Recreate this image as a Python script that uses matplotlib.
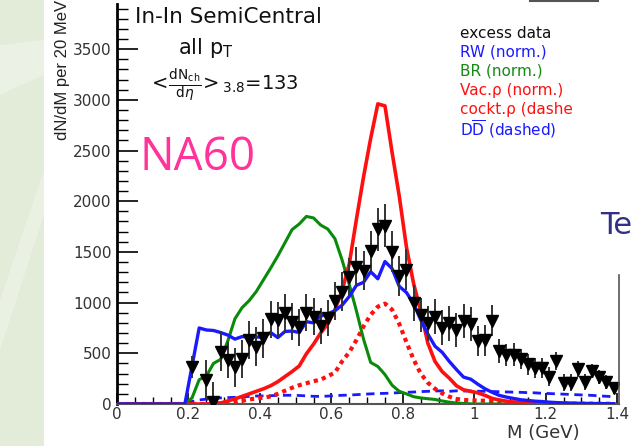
import numpy as np
import matplotlib
matplotlib.use("Agg")
import matplotlib.pyplot as plt
from matplotlib.patches import Rectangle, Polygon
from matplotlib.lines import Line2D

plt.rcParams['font.family'] = ['DejaVu Sans']
plt.rcParams['mathtext.fontset'] = 'dejavusans'

# excess data (20 MeV bins)
m_data = [0.21, 0.25, 0.27, 0.29, 0.31, 0.33, 0.35, 0.37, 0.39, 0.41, 0.43, 0.45, 0.47, 0.49,
          0.51, 0.53, 0.55, 0.57, 0.59, 0.61, 0.63, 0.65, 0.67, 0.69, 0.71, 0.73, 0.75, 0.77,
          0.79, 0.81, 0.83, 0.85, 0.87, 0.89, 0.91, 0.93, 0.95, 0.97, 0.99, 1.01, 1.03, 1.05,
          1.07, 1.09, 1.11, 1.13, 1.15, 1.17, 1.19, 1.21, 1.23, 1.25, 1.27, 1.29, 1.31, 1.33,
          1.35, 1.37, 1.39]
y_data = [368, 237, 23, 516, 434, 362, 444, 631, 565, 648, 835, 828, 894, 812,
          756, 900, 861, 770, 850, 1015, 1107, 1252, 1354, 1315, 1507, 1722, 1760, 1502,
          1262, 1326, 996, 880, 796, 861, 754, 796, 730, 820, 790, 622, 628, 823,
          524, 483, 488, 441, 390, 352, 352, 270, 421, 212, 212, 343, 220, 322,
          266, 215, 155]
err_data = [110, 200, 190, 190, 180, 190, 190, 190, 190, 190, 180, 180, 190, 180,
            180, 180, 180, 180, 180, 190, 190, 190, 190, 190, 200, 210, 210, 200,
            200, 200, 180, 170, 170, 170, 170, 170, 170, 170, 170, 150, 150, 150,
            120, 110, 110, 100, 100, 100, 100, 90, 90, 80, 80, 80, 80, 70,
            70, 70, 60]

m_rw = [0.0, 0.19, 0.23, 0.25, 0.27, 0.29, 0.31, 0.33, 0.35, 0.37, 0.39, 0.41, 0.43, 0.45,
        0.47, 0.49, 0.51, 0.53, 0.55, 0.57, 0.59, 0.61, 0.63, 0.65, 0.67, 0.69, 0.71, 0.73,
        0.75, 0.77, 0.79, 0.81, 0.83, 0.85, 0.87, 0.89, 0.91, 0.93, 0.95, 0.97, 0.99, 1.01,
        1.03, 1.05, 1.07, 1.09, 1.11, 1.13, 1.15, 1.17, 1.19, 1.21, 1.23, 1.25, 1.27, 1.29,
        1.31, 1.33, 1.35, 1.37, 1.39]
y_rw = [0, 0, 750, 730, 725, 705, 680, 640, 665, 660, 660, 660, 705, 655,
        715, 720, 705, 812, 800, 865, 890, 920, 975, 1060, 1170, 1200, 1305, 1235,
        1405, 1335, 1160, 1100, 990, 830, 690, 570, 510, 420, 340, 265, 245, 195,
        150, 115, 85, 68, 55, 42, 35, 28, 24, 18, 14, 11, 9, 7,
        6, 5, 4, 3, 3]

m_br = [0.0, 0.19, 0.21, 0.23, 0.25, 0.27, 0.29, 0.31, 0.33, 0.35, 0.37, 0.39, 0.41, 0.43,
        0.45, 0.47, 0.49, 0.51, 0.53, 0.55, 0.57, 0.59, 0.61, 0.63, 0.65, 0.67, 0.69, 0.71,
        0.73, 0.75, 0.77, 0.79, 0.81, 0.83, 0.85, 0.87, 0.89, 0.91, 0.93, 0.95, 0.97, 1.0, 1.39]
y_br = [0, 0, 60, 240, 275, 400, 440, 620, 840, 950, 1020, 1110, 1225, 1340,
        1460, 1590, 1720, 1775, 1850, 1835, 1765, 1725, 1630, 1420, 1180, 920, 640, 410,
        370, 290, 185, 125, 100, 72, 60, 52, 45, 30, 18, 10, 5, 0, 0]

m_vac = [0.0, 0.25, 0.27, 0.29, 0.31, 0.33, 0.35, 0.37, 0.39, 0.41, 0.43, 0.45, 0.47, 0.49,
         0.51, 0.53, 0.55, 0.57, 0.59, 0.61, 0.63, 0.65, 0.67, 0.69, 0.71, 0.73, 0.75, 0.77,
         0.79, 0.81, 0.83, 0.85, 0.87, 0.89, 0.91, 0.93, 0.95, 0.97, 0.99, 1.01, 1.03, 1.05,
         1.07, 1.09, 1.11, 1.13, 1.15, 1.17, 1.19, 1.21, 1.25, 1.3, 1.39]
y_vac = [0, 0, 5, 10, 30, 50, 75, 100, 125, 150, 180, 220, 270, 320,
         375, 495, 590, 700, 790, 930, 1120, 1380, 1820, 2240, 2620, 2960, 2940, 2480,
         2050, 1550, 1190, 915, 600, 420, 320, 255, 180, 140, 125, 110, 85, 55,
         40, 28, 20, 15, 12, 9, 7, 5, 3, 2, 1]

m_cockt = [0.0, 0.27, 0.29, 0.31, 0.33, 0.35, 0.37, 0.39, 0.41, 0.43, 0.45, 0.47, 0.49, 0.51,
           0.53, 0.55, 0.57, 0.59, 0.61, 0.63, 0.65, 0.67, 0.69, 0.71, 0.73, 0.75, 0.77, 0.79,
           0.81, 0.83, 0.85, 0.87, 0.89, 0.91, 0.93, 0.95, 0.97, 0.99, 1.01, 1.03, 1.05, 1.07,
           1.09, 1.11, 1.13, 1.15, 1.2, 1.3, 1.39]
y_cockt = [0, 0, 5, 12, 22, 32, 45, 55, 62, 75, 100, 130, 160, 185,
           205, 225, 240, 275, 310, 420, 510, 630, 765, 880, 960, 990, 930, 790,
           610, 440, 300, 210, 150, 105, 72, 50, 40, 36, 34, 32, 28, 22,
           18, 14, 11, 9, 6, 3, 2]

m_dd = [0.0, 0.19, 0.21, 0.23, 0.25, 0.27, 0.29, 0.31, 0.33, 0.35, 0.37, 0.39, 0.41, 0.43,
        0.45, 0.47, 0.49, 0.51, 0.53, 0.55, 0.57, 0.59, 0.61, 0.63, 0.65, 0.67, 0.69, 0.71,
        0.73, 0.75, 0.77, 0.79, 0.81, 0.83, 0.85, 0.87, 0.89, 0.91, 0.93, 0.95, 0.97, 0.99,
        1.01, 1.03, 1.05, 1.07, 1.09, 1.11, 1.13, 1.15, 1.17, 1.19, 1.21, 1.23, 1.25, 1.27,
        1.29, 1.31, 1.33, 1.35, 1.37, 1.39]
y_dd = [0, 0, 25, 40, 48, 55, 60, 63, 66, 70, 75, 79, 80, 82,
        85, 86, 86, 84, 80, 76, 75, 78, 82, 86, 88, 92, 96, 100,
        103, 105, 108, 112, 115, 118, 122, 125, 128, 130, 125, 130, 128, 128,
        126, 125, 123, 121, 119, 117, 115, 112, 110, 106, 103, 100, 97, 94,
        91, 88, 85, 80, 76, 72]

legend_rows = [("excess data", "#111111"), ("RW (norm.)", "#1a1aff"), ("BR (norm.)", "#138a13"),
               ("Vac.ρ (norm.)", "#ff1010"), ("cockt.ρ (dashe", "#ff1010"),
               (r"D$\overline{\mathrm{D}}$ (dashed)", "#1a1aff")]

W, H = 634, 446
fig = plt.figure(figsize=(W / 100, H / 100), dpi=100)
fig.patch.set_facecolor("white")

# green slide strip on the left
fig.patches.append(Rectangle((0, 0), 44 / W, 1, transform=fig.transFigure,
                             facecolor="#e2ecd8", edgecolor="none", zorder=0))
fig.patches.append(Polygon([(0, 1 - 45 / H), (44 / W, 1 - 40 / H), (44 / W, 1 - 75 / H), (0, 1 - 95 / H)],
                           closed=True, transform=fig.transFigure,
                           facecolor="#ebf1e4", edgecolor="none", zorder=0))
fig.patches.append(Polygon([(0, 1 - 300 / H), (44 / W, 1 - 170 / H), (44 / W, 1 - 215 / H), (0, 1 - 350 / H)],
                           closed=True, transform=fig.transFigure,
                           facecolor="#eaf1e3", edgecolor="none", zorder=0))

ax = fig.add_axes([117 / W, 1 - 404 / H, (619 - 117) / W, (404 - 4) / H])
ax.set_facecolor("none")

ax.plot(m_dd, y_dd, color="#1a1aff", lw=2, ls=(0, (3, 2)), zorder=2)
ax.plot(m_cockt, y_cockt, color="#ff1010", lw=3, ls=(0, (1, 1)), zorder=2)
ax.plot(m_br, y_br, color="#0a8a0a", lw=2.2, zorder=3)
ax.plot(m_vac, y_vac, color="#ff1010", lw=2.6, zorder=3)
ax.plot(m_rw, y_rw, color="#1a1aff", lw=2.4, zorder=3)
ax.errorbar(m_data, y_data, yerr=err_data, fmt="v", color="black", ms=8.5,
            ecolor="#333333", elinewidth=1.4, capsize=0, zorder=5)

ax.set_xlim(0, 1.405)
ax.set_ylim(0, 3945)
ax.set_xticks([0, 0.2, 0.4, 0.6, 0.8, 1.0, 1.2, 1.4])
ax.set_xticklabels(["0", "0.2", "0.4", "0.6", "0.8", "1", "1.2", "1.4"])
ax.set_xticks(np.arange(0, 1.41, 0.05), minor=True)
ax.set_yticks([0, 500, 1000, 1500, 2000, 2500, 3000, 3500])
ax.set_yticks(np.arange(0, 3901, 100), minor=True)
ax.tick_params(axis="y", which="major", direction="in", length=15, width=1.2,
               labelsize=11, labelcolor="#333333", pad=4)
ax.tick_params(axis="y", which="minor", direction="in", length=8, width=1)
ax.tick_params(axis="x", which="major", direction="in", length=8, width=1.2,
               labelsize=11, labelcolor="#333333", pad=2)
ax.tick_params(axis="x", which="minor", direction="in", length=5, width=1)
for s in ["top", "right"]:
    ax.spines[s].set_visible(False)
ax.spines["left"].set_linewidth(2)
ax.spines["bottom"].set_linewidth(1.5)
ax.spines["bottom"].set_color("#555555")

# partial right frame and slide fragments
fig.add_artist(Line2D([619 / W, 619 / W], [1 - 275 / H, 1 - 404 / H], color="#555555", lw=1.2))
fig.add_artist(Line2D([530 / W, 598 / W], [1 - 1 / H, 1 - 1 / H], color="#555555", lw=1.5))

fig.text(62 / W, 1 - 70 / H, "dN/dM per 20 MeV", rotation=90, ha="center", va="center",
         fontsize=12, color="#222222", family=["Liberation Sans Narrow", "Liberation Sans"])
fig.text(580 / W, 1 - 433 / H, "M (GeV)", ha="right", va="center", fontsize=13, color="#333333")

fig.text(135 / W, 1 - 17 / H, "In-In SemiCentral", ha="left", va="center", fontsize=15.5, color="#111111")
fig.text(178 / W, 1 - 48 / H, r"all p$_{\mathrm{T}}$", ha="left", va="center", fontsize=15, color="#111111")
fig.text(148 / W, 1 - 85 / H, r"$<\!\frac{\mathrm{dN_{ch}}}{\mathrm{d}\eta}\!>_{3.8}$=133",
         ha="left", va="center", fontsize=14, color="#111111")
fig.text(140 / W, 1 - 158 / H, "NA60", ha="left", va="center", fontsize=33, color="#ff3399",
         family=["Open Sans", "DejaVu Sans"])

for i, (txt, col) in enumerate(legend_rows):
    fig.text(460 / W, 1 - (33 + i * 19.2) / H, txt, ha="left", va="center", fontsize=11, color=col)

fig.text(600 / W, 1 - 226 / H, "Te", ha="left", va="center", fontsize=22, color="#303088")

fig.savefig("out.png", dpi=100)
